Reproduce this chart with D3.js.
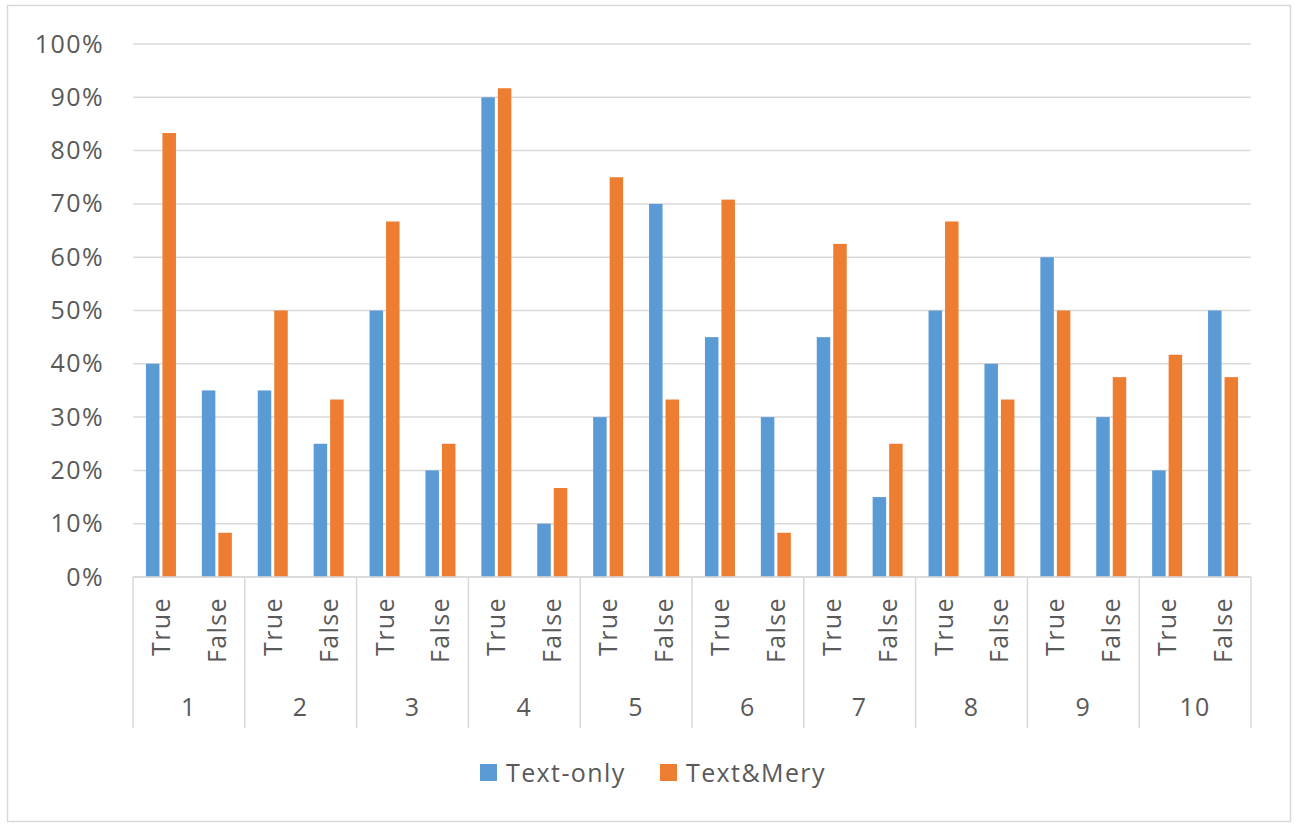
<!DOCTYPE html>
<html>
<head>
<meta charset="utf-8">
<script src="https://cdnjs.cloudflare.com/ajax/libs/d3/7.8.5/d3.min.js"></script>
<style>
  html, body { margin: 0; padding: 0; background: #fff; }
  svg { display: block; }
  text { font-family: "Open Sans", "Liberation Sans", sans-serif; fill: #595959; letter-spacing: 1.4px; }
</style>
</head>
<body>
<svg id="chart" width="1295" height="828"></svg>
<script>
// Question numbers and answer outcome per question
const groups = ["1", "2", "3", "4", "5", "6", "7", "8", "9", "10"];
const outcomes = ["True", "False"];
const seriesNames = ["Text-only", "Text&Mery"];
const seriesColors = ["#5b9bd5", "#ed7d31"];

// Share of answers (%), ordered as group 1 True, group 1 False, group 2 True, ...
const textOnly = [40, 35, 35, 25, 50, 20, 90, 10, 30, 70, 45, 30, 45, 15, 50, 40, 60, 30, 20, 50];
const textMery = [83.3, 8.3, 50, 33.3, 66.7, 25, 91.7, 16.7, 75, 33.3, 70.8, 8.3, 62.5, 25, 66.7, 33.3, 50, 37.5, 41.7, 37.5];

const yTicks = [0, 10, 20, 30, 40, 50, 60, 70, 80, 90, 100];

(function draw() {
  const svg = d3.select("#chart");
  const fontSize = 25;

  // outer chart frame
  svg.append("rect")
    .attr("x", 7.5).attr("y", 5.5)
    .attr("width", 1283).attr("height", 816)
    .attr("fill", "#fff").attr("stroke", "#d9d9d9").attr("stroke-width", 1.5);

  const plotL = 133, plotR = 1251, plotT = 44, plotB = 577;

  const slots = [];
  groups.forEach(g => outcomes.forEach(o => slots.push(g + "|" + o)));

  const xGroup = d3.scaleBand().domain(groups).range([plotL, plotR]);
  const xSlot = d3.scaleBand().domain(slots).range([plotL, plotR]);
  const y = d3.scaleLinear().domain([0, 100]).range([plotB, plotT]);

  // horizontal gridlines
  svg.append("g")
    .selectAll("line")
    .data(yTicks)
    .join("line")
    .attr("x1", plotL).attr("x2", plotR)
    .attr("y1", d => y(d)).attr("y2", d => y(d))
    .attr("stroke", "#d9d9d9").attr("stroke-width", 1.5);

  // value axis labels
  const yAxis = svg.append("g")
    .attr("transform", `translate(${plotL - 29},0)`)
    .call(d3.axisLeft(y).tickValues(yTicks).tickFormat(d => d + "%").tickSize(0).tickPadding(0));
  yAxis.select(".domain").remove();
  yAxis.selectAll("text")
    .attr("font-size", fontSize)
    .attr("fill", "#595959")
    .style("font-family", "'Open Sans', sans-serif");

  // bars
  const barW = 13.5, gap = 3;
  const rows = slots.map((s, i) => ({ slot: s, vals: [textOnly[i], textMery[i]] }));
  const barG = svg.append("g");
  rows.forEach(r => {
    const cx = xSlot(r.slot) + xSlot.bandwidth() / 2;
    r.vals.forEach((v, si) => {
      const x0 = si === 0 ? cx - gap / 2 - barW : cx + gap / 2;
      barG.append("rect")
        .attr("x", x0)
        .attr("y", y(v))
        .attr("width", barW)
        .attr("height", y(0) - y(v))
        .attr("fill", seriesColors[si]);
    });
  });

  // category axis: baseline and group separators
  const axisBottom = 728;
  svg.append("line")
    .attr("x1", plotL).attr("x2", plotR)
    .attr("y1", plotB).attr("y2", plotB)
    .attr("stroke", "#d9d9d9").attr("stroke-width", 1.5);
  const bounds = groups.map(g => xGroup(g)).concat([plotR]);
  svg.append("g").selectAll("line")
    .data(bounds)
    .join("line")
    .attr("x1", d => d).attr("x2", d => d)
    .attr("y1", plotB).attr("y2", axisBottom)
    .attr("stroke", "#d9d9d9").attr("stroke-width", 1.5);

  // rotated True/False labels
  svg.append("g").selectAll("text")
    .data(slots)
    .join("text")
    .attr("transform", d => `translate(${xSlot(d) + xSlot.bandwidth() / 2 + 9},597) rotate(-90)`)
    .attr("text-anchor", "end")
    .attr("font-size", fontSize)
    .text(d => d.split("|")[1]);

  // group numbers
  svg.append("g").selectAll("text")
    .data(groups)
    .join("text")
    .attr("x", d => xGroup(d) + xGroup.bandwidth() / 2)
    .attr("y", 716)
    .attr("text-anchor", "middle")
    .attr("font-size", fontSize)
    .text(d => d);

  // legend
  const legend = svg.append("g");
  const legendX = [480, 660];
  seriesNames.forEach((name, i) => {
    legend.append("rect")
      .attr("x", legendX[i]).attr("y", 764)
      .attr("width", 17).attr("height", 17)
      .attr("fill", seriesColors[i]);
    legend.append("text")
      .attr("x", legendX[i] + 26).attr("y", 782)
      .attr("font-size", fontSize)
      .text(name);
  });
})();
</script>
</body>
</html>
